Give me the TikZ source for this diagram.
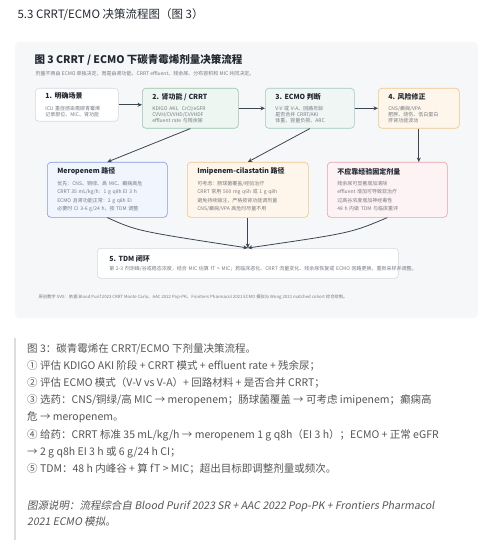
\documentclass[tikz,border=0pt]{standalone}
\usepackage{fontspec}
\setmainfont{Noto Sans CJK SC}
\newfontfamily\slantfont[FakeSlant=0.18]{Noto Sans CJK SC}
\usetikzlibrary{arrows.meta,positioning}
\tikzset{>=Stealth}
\definecolor{cardbg}{RGB}{246,247,248}
\definecolor{ink}{RGB}{34,40,49}
\definecolor{bodygray}{RGB}{118,124,132}
\definecolor{arrowc}{RGB}{60,70,82}
\definecolor{graybd}{RGB}{212,217,222}
\definecolor{greenbd}{RGB}{150,196,170}
\definecolor{greenbg}{RGB}{238,246,241}
\definecolor{tealbd}{RGB}{160,200,190}
\definecolor{tealbg}{RGB}{239,246,244}
\definecolor{orangebd}{RGB}{240,197,140}
\definecolor{orangebg}{RGB}{254,246,235}
\definecolor{bluebd}{RGB}{130,155,225}
\definecolor{bluebg}{RGB}{241,245,253}
\definecolor{pinkbd}{RGB}{232,160,168}
\definecolor{pinkbg}{RGB}{253,243,244}
\definecolor{captext}{RGB}{85,85,85}
\definecolor{barc}{RGB}{221,221,221}
\newcommand{\boxhead}[2][5pt]{{\fontsize{7}{8}\selectfont\bfseries\color{ink}#2\par}\vspace{#1}}

\begin{document}
\begin{tikzpicture}[
    x = 1pt, y = -1pt,
    card/.style = {draw = graybd, fill = white, rounded corners = 3.5pt, line width = 0.6pt, anchor = north west, inner xsep = 10pt, inner ysep = 0pt, align = left, text = bodygray, font = \fontsize{5}{6.2}\selectfont},
    midrow/.style = {minimum height = 55, font = \fontsize{5}{8.5}\selectfont},
    flow/.style = {->, draw = arrowc, line width = 0.8pt, >={Stealth[length=4.5pt, width=4pt]}},
]
\useasboundingbox (0,0) rectangle (500,548);

% heading and card
\node[anchor = west, text = ink, font = \fontsize{11.5}{14}\selectfont] (heading) at (14,15) {5.3 CRRT/ECMO 决策流程图（图 3）};
\fill[cardbg, rounded corners = 4pt] (15,42) rectangle (478,318);
\node[anchor = west, text = ink, font = \fontsize{10.5}{12}\selectfont\bfseries] (title) at (31,60) {图 3 CRRT / ECMO 下碳青霉烯剂量决策流程};
\node[anchor = west, text = bodygray, font = \fontsize{5}{6}\selectfont] (subtitle) at (32,74) {剂量不再由 ECMO 单独决定，而是由肾功能、CRRT effluent、残余尿、分布容积和 MIC 共同决定。};

% top row
\node[card, minimum height = 33, text width = 63] (scene) at (35,88) {\boxhead{1. 明确场景}ICU 重症感染需碳青霉烯\\ 记录部位、MIC、肾功能};
\node[card, draw = greenbd, fill = greenbg, minimum height = 40, text width = 76] (crrt) at (142,88) {\boxhead{2. 肾功能 / CRRT}KDIGO AKI、CrCl/eGFR\\ CVVH/CVVHD/CVVHDF\\ effluent rate 与残余尿};
\node[card, draw = tealbd, fill = tealbg, minimum height = 40, text width = 69] (ecmo) at (265,88) {\boxhead{3. ECMO 判断}V-V 或 V-A、回路年龄\\ 是否合并 CRRT/AKI\\ 体重、容量负荷、ARC};
\node[card, draw = orangebd, fill = orangebg, minimum height = 40, text width = 61] (risk) at (378,88) {\boxhead{4. 风险修正}CNS/癫痫/VPA\\ 肥胖、烧伤、低白蛋白\\ 肝肾功能波动};

% middle row
\node[card, midrow, draw = bluebd, fill = bluebg, text width = 100] (mero) at (47,162) {\boxhead[2.7pt]{Meropenem 路径}优先：CNS、铜绿、高 MIC、癫痫高危\\ CRRT 35 mL/kg/h：1 g q8h EI 3 h\\ ECMO 且肾功能正常：2 g q8h EI\\ 必要时 CI 3-6 g/24 h，按 TDM 调整};
\node[card, midrow, draw = orangebd, fill = orangebg, text width = 101] (imip) at (187,162) {\boxhead[2.7pt]{Imipenem-cilastatin 路径}可考虑：肠球菌覆盖/经验治疗\\ CRRT 常用 500 mg q6h 或 1 g q8h\\ 避免持续输注，严格按肾功能调剂量\\ CNS/癫痫/VPA 高危时尽量不用};
\node[card, midrow, draw = pinkbd, fill = pinkbg, text width = 100] (fixed) at (327,162) {\boxhead[2.7pt]{不应靠经验固定剂量}残余尿可显著增加清除\\ effluent 增加可导致亚治疗\\ 过高谷浓度增加神经毒性\\ 48 h 内做 TDM 与临床重评};

% bottom
\node[card, minimum height = 30, inner xsep = 12pt, text width = 277] (tdm) at (97,248) {\boxhead[3.2pt]{5. TDM 闭环}\mbox{第 2-3 剂测峰/谷或稳态浓度，结合 MIC 估算 fT > MIC；若临床恶化、CRRT 流量变化、残余尿恢复或 ECMO 回路更换，重新采样并调整。}};
\node[anchor = west, text = bodygray, font = \fontsize{4.3}{5}\selectfont] (footer) at (35,297) {原创教学 SVG：依据 Blood Purif 2023 CRRT Monte Carlo、AAC 2022 Pop-PK、Frontiers Pharmacol 2021 ECMO 模拟与 Wong 2021 matched cohort 综合绘制。};

% connectors
\draw[flow] (scene.east) -- (scene.east -| crrt.west);
\draw[flow] (crrt.east) -- (ecmo.west);
\draw[flow] (ecmo.east) -- (risk.west);
\draw[flow] (crrt.south) -- (mero.north);
\draw[flow] (ecmo.south) -- (imip.north);
\draw[flow] (risk.south) -- (risk.south |- fixed.north);
\draw[flow] (mero.south) .. controls (137,231) .. (tdm.north);
\draw[flow] (imip.south) -- (tdm.north);
\draw[flow] (fixed.south) .. controls (351,233) .. (tdm.north);

% caption
\draw[barc, line width = 2pt] (15,338) -- (15,540);
\node[anchor = north west, inner sep = 0pt, align = left, text = captext, font = \fontsize{10.5}{17.2}\selectfont] (caption) at (27,343) {图 3：碳青霉烯在 CRRT/ECMO 下剂量决策流程。\\
① 评估 KDIGO AKI 阶段 + CRRT 模式 + effluent rate + 残余尿；\\
② 评估 ECMO 模式（V-V vs V-A）+ 回路材料 + 是否合并 CRRT；\\
③ 选药：CNS/铜绿/高 MIC → meropenem；肠球菌覆盖 → 可考虑 imipenem；癫痫高\\
危 → meropenem。\\
④ 给药：CRRT 标准 35 mL/kg/h → meropenem 1 g q8h（EI 3 h）；ECMO + 正常 eGFR\\
→ 2 g q8h EI 3 h 或 6 g/24 h CI；\\
⑤ TDM：48 h 内峰谷 + 算 fT > MIC；超出目标即调整剂量或频次。};
\node[anchor = north west, inner sep = 0pt, align = left, text = captext, font = \fontsize{10.5}{16.5}\selectfont\slantfont] (source) at (27,500) {图源说明：流程综合自 Blood Purif 2023 SR + AAC 2022 Pop-PK + Frontiers Pharmacol\\
2021 ECMO 模拟。};
\end{tikzpicture}
\end{document}
